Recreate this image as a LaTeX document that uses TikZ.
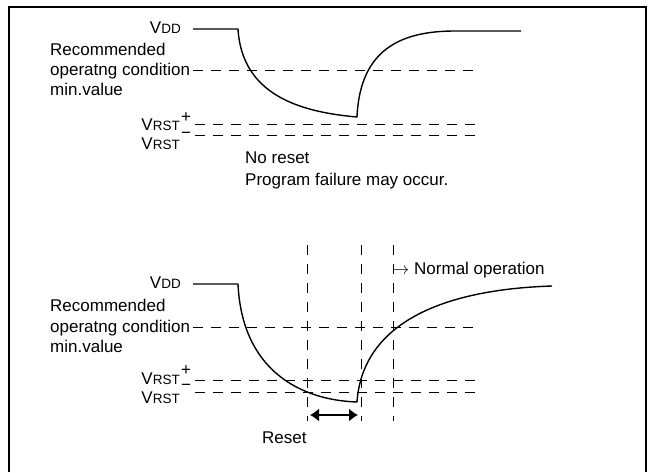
\documentclass[tikz,border=0pt]{standalone}
\usepackage{fontspec}
\setmainfont{Liberation Sans}
\usetikzlibrary{arrows.meta}
\begin{document}
\begin{tikzpicture}[x=1pt,y=-1pt,
  lbl/.style={font=\fontsize{17}{20}\selectfont, inner sep=0pt},
  supplus/.style={font=\fontsize{17}{20}\selectfont, inner sep=0pt, text height=10pt, text depth=-2pt, anchor=base},
  supminus/.style={font=\fontsize{17}{20}\selectfont, inner sep=0pt, text height=6.5pt, text depth=-4.5pt, anchor=base},
  curve/.style={line width=1.4pt, line join=round},
  dsh/.style={line width=0.9pt, dash pattern=on 10pt off 8pt},
  vdsh/.style={line width=0.9pt, dash pattern=on 10pt off 9pt},
  frameline/.style={line width=2.2pt},
  dblarrow/.style={line width=1.4pt, {Latex[length=9pt,width=13pt]}-{Latex[length=9pt,width=13pt]}}]
\useasboundingbox (0,0) rectangle (651,472);
% frame
\coordinate (f1) at (9,472);
\coordinate (f2) at (9,7);
\coordinate (f3) at (646,7);
\coordinate (f4) at (646,472);
\draw[frameline] (f1) -- (f2) -- (f3) -- (f4);

% ================= top panel =================
\node[lbl, anchor=base east] (vdd1) at (181,33) {V{\fontsize{13.5}{14}\selectfont DD}};
\node[lbl, anchor=base west] (rec1) at (50,55) {Recommended};
\node[lbl, anchor=base west] (opc1) at (50,75) {operatng condition};
\node[lbl, anchor=base west] (min1) at (50,95) {min.value};
\node[lbl, anchor=base east] (vrp1) at (180,130) {V{\fontsize{13.5}{14}\selectfont RST}};
\node[supplus] (sp1) at (186,122) {+};
\node[lbl, anchor=base east] (vrm1) at (180,149) {V{\fontsize{13.5}{14}\selectfont RST}};
\node[supminus] (sm1) at (186,138.5) {\char"2212};
\node[lbl, anchor=base west] (nr1) at (245,163) {No reset};
\node[lbl, anchor=base west] (pf1) at (245,185) {Program failure may occur.};

\coordinate (a0) at (193,29);
\coordinate (a1) at (238,29);
\coordinate (a2) at (357,117);
\coordinate (a3) at (455,31);
\coordinate (a4) at (521,31);
\draw[curve] (a0) -- (a1) .. controls (242,95) and (300,112) .. (a2)
  .. controls (360,50) and (400,31) .. (a3) -- (a4);

\coordinate (h1s) at (193,70);  \coordinate (h1e) at (475,70);
\coordinate (h2s) at (195,124); \coordinate (h2e) at (475,124);
\coordinate (h3s) at (195,135); \coordinate (h3e) at (475,135);
\draw[dsh] (h1s) -- (h1e);
\draw[dsh] (h2s) -- (h2e);
\draw[dsh] (h3s) -- (h3e);

% ================= bottom panel =================
\node[lbl, anchor=base east] (vdd2) at (181,288) {V{\fontsize{13.5}{14}\selectfont DD}};
\node[lbl, anchor=base west] (rec2) at (50,311) {Recommended};
\node[lbl, anchor=base west] (opc2) at (50,332) {operatng condition};
\node[lbl, anchor=base west] (min2) at (50,352) {min.value};
\node[lbl, anchor=base east] (vrp2) at (180,384) {V{\fontsize{13.5}{14}\selectfont RST}};
\node[supplus] (sp2) at (186,375) {+};
\node[lbl, anchor=base east] (vrm2) at (180,403) {V{\fontsize{13.5}{14}\selectfont RST}};
\node[supminus] (sm2) at (186,390.5) {\char"2212};
\node[lbl, anchor=base west] (rst) at (262,443) {Reset};
\node[lbl, anchor=base west] (nop) at (392,274) {{\fontsize{19}{20}\selectfont$\mapsto$} Normal operation};

\coordinate (b0) at (193,284);
\coordinate (b1) at (238,284);
\coordinate (b2) at (357,402);
\coordinate (b3) at (552,286);
\draw[curve] (b0) -- (b1) .. controls (242,370) and (300,400) .. (b2)
  .. controls (362,330) and (430,290) .. (b3);

\coordinate (g1s) at (193,327); \coordinate (g1e) at (475,327);
\coordinate (g2s) at (195,380); \coordinate (g2e) at (475,380);
\coordinate (g3s) at (195,392); \coordinate (g3e) at (475,392);
\draw[dsh] (g1s) -- (g1e);
\draw[dsh] (g2s) -- (g2e);
\draw[dsh] (g3s) -- (g3e);

\coordinate (v1s) at (307,245); \coordinate (v1e) at (307,421);
\coordinate (v2s) at (361,245); \coordinate (v2e) at (361,421);
\coordinate (v3s) at (393,245); \coordinate (v3e) at (393,421);
\draw[vdsh] (v1s) -- (v1e);
\draw[vdsh] (v2s) -- (v2e);
\draw[vdsh] (v3s) -- (v3e);

\coordinate (ra) at (310,415);
\coordinate (rb) at (358,415);
\draw[dblarrow] (ra) -- (rb);
\end{tikzpicture}
\end{document}
